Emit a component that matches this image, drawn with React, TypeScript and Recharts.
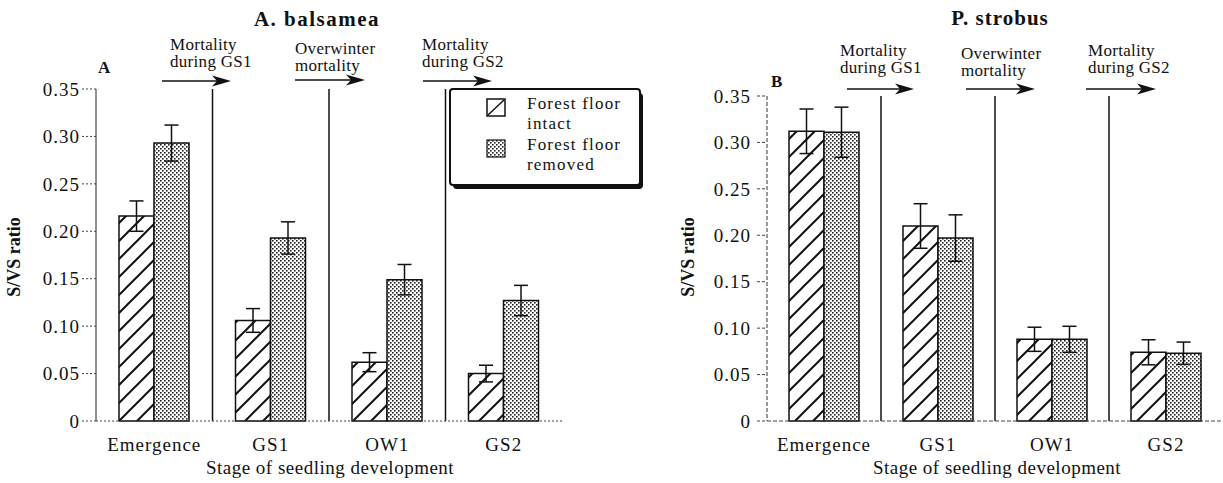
import React from 'react';
import { BarChart, Bar, XAxis, YAxis, ErrorBar, ReferenceLine, Legend } from 'recharts';

// ---------- data ----------
const stages = ['Emergence', 'GS1', 'OW1', 'GS2'];

// A. balsamea
const abIntact = [0.216, 0.106, 0.062, 0.050];
const abIntactErr = [0.016, 0.0125, 0.010, 0.0088];
const abRemoved = [0.293, 0.193, 0.149, 0.127];
const abRemovedErr = [0.019, 0.017, 0.016, 0.016];

// P. strobus
const psIntact = [0.312, 0.210, 0.088, 0.074];
const psIntactErr = [0.024, 0.024, 0.013, 0.0135];
const psRemoved = [0.311, 0.197, 0.088, 0.073];
const psRemovedErr = [0.027, 0.025, 0.014, 0.012];

const yTicks = [0, 0.05, 0.1, 0.15, 0.2, 0.25, 0.3, 0.35];
const separatorStages = ['GS1', 'OW1', 'GS2'];

const legendLabels = [['Forest floor', 'intact'], ['Forest floor', 'removed']];

const abData = stages.map((s, i) => ({
  stage: s,
  intact: abIntact[i],
  intactErr: abIntactErr[i],
  removed: abRemoved[i],
  removedErr: abRemovedErr[i],
}));
const psData = stages.map((s, i) => ({
  stage: s,
  intact: psIntact[i],
  intactErr: psIntactErr[i],
  removed: psRemoved[i],
  removedErr: psRemovedErr[i],
}));

// ---------- styles ----------
const FONT = "'Liberation Serif', 'Times New Roman', serif";
const INK = '#111';
const tickStyle = { fontSize: 19, fill: INK, fontFamily: FONT, letterSpacing: 1 };

const fmt = (v: number) => (v === 0 ? '0' : v.toFixed(2));

const Patterns = ({ prefix }: { prefix: string }) => (
  <defs>
    <pattern id={`${prefix}-hatch`} patternUnits="userSpaceOnUse" width="18" height="18">
      <rect width="18" height="18" fill="#fff" />
      <path d="M-2,20 L20,-2 M-2,2 L2,-2 M16,20 L20,16" stroke={INK} strokeWidth="2" />
    </pattern>
    <pattern id={`${prefix}-dots`} patternUnits="userSpaceOnUse" width="4" height="4">
      <rect width="4" height="4" fill="#fff" />
      <rect x="0" y="0" width="1.6" height="1.6" fill="#222" />
      <rect x="2" y="2" width="1.6" height="1.6" fill="#222" />
    </pattern>
  </defs>
);

const LegendBox = () => (
  <svg width={204} height={106} style={{ display: 'block' }}>
    <defs>
      <pattern id="lg-dots" patternUnits="userSpaceOnUse" width="4" height="4">
        <rect width="4" height="4" fill="#fff" />
        <rect x="0" y="0" width="1.6" height="1.6" fill="#222" />
        <rect x="2" y="2" width="1.6" height="1.6" fill="#222" />
      </pattern>
    </defs>
    <rect x={7} y={7} width={190} height={96} rx={4} fill={INK} />
    <rect x={4} y={3} width={190} height={96} rx={3} fill="#fff" stroke={INK} strokeWidth={2} />
    <rect x={41} y={13} width={18} height={17} fill="#fff" stroke={INK} strokeWidth={1.5} />
    <line x1={42} y1={29} x2={58} y2={14} stroke={INK} strokeWidth={1.5} />
    <rect x={41} y={54} width={18} height={17} fill="url(#lg-dots)" stroke={INK} strokeWidth={1.2} />
    <g fontFamily={FONT} fontSize={17} fill={INK} style={{ letterSpacing: 1.2 }}>
      <text x={81} y={23}>{legendLabels[0][0]}</text>
      <text x={81} y={43}>{legendLabels[0][1]}</text>
      <text x={81} y={64}>{legendLabels[1][0]}</text>
      <text x={81} y={84}>{legendLabels[1][1]}</text>
    </g>
  </svg>
);

const Arrow = ({ x1, x2, y }: { x1: number; x2: number; y: number }) => (
  <g>
    <line x1={x1} y1={y} x2={x2 - 14} y2={y} stroke={INK} strokeWidth={1.5} />
    <polygon points={`${x2},${y} ${x2 - 19},${y - 5.5} ${x2 - 14},${y} ${x2 - 19},${y + 5.5}`} fill={INK} />
  </g>
);

const Note = ({ x, y1, y2, l1, l2 }: { x: number; y1: number; y2: number; l1: string; l2: string }) => (
  <g fontFamily={FONT} fontSize={17} fill={INK} style={{ letterSpacing: 0.3 }}>
    <text x={x} y={y1}>{l1}</text>
    <text x={x} y={y2}>{l2}</text>
  </g>
);

export default function App() {
  return (
    <div
      style={{
        position: 'absolute',
        left: 0,
        top: 0,
        width: 1223,
        height: 483,
        overflow: 'hidden',
        background: '#fff',
        fontFamily: FONT,
      }}
    >
      {/* Left panel: A. balsamea */}
      <div style={{ position: 'absolute', left: 0, top: 0 }}>
        <BarChart
          width={650}
          height={483}
          data={abData}
          margin={{ top: 89, right: 88, bottom: 32, left: 0 }}
          barCategoryGap={23}
          barGap={0}
        >
          <Patterns prefix="ab" />
          <XAxis
            dataKey="stage"
            height={30}
            tickLine={false}
            tickSize={0}
            tickMargin={17}
            axisLine={{ stroke: '#444', strokeDasharray: '2 2', strokeWidth: 1 }}
            tick={tickStyle}
            interval={0}
          />
          <YAxis
            width={96}
            domain={[0, 0.35]}
            ticks={yTicks}
            interval={0}
            tickFormatter={fmt}
            tickSize={14}
            tickMargin={2}
            tickLine={{ stroke: '#444', strokeDasharray: '2 2' }}
            axisLine={{ stroke: '#222', strokeWidth: 1 }}
            tick={tickStyle}
          />
          {separatorStages.map((s) => (
            <ReferenceLine key={s} x={s} position="start" stroke={INK} strokeWidth={1.5} />
          ))}
          <Legend
            layout="horizontal"
            verticalAlign="middle"
            align="center"
            content={() => <LegendBox />}
            wrapperStyle={{ position: 'absolute', left: 446, top: 86, width: 204, height: 106 }}
          />
          <Bar dataKey="intact" fill="url(#ab-hatch)" stroke={INK} strokeWidth={1.5} isAnimationActive={false}>
            <ErrorBar dataKey="intactErr" width={7} stroke={INK} strokeWidth={1.5} isAnimationActive={false} />
          </Bar>
          <Bar dataKey="removed" fill="url(#ab-dots)" stroke={INK} strokeWidth={1.5} isAnimationActive={false}>
            <ErrorBar dataKey="removedErr" width={7} stroke={INK} strokeWidth={1.5} isAnimationActive={false} />
          </Bar>
        </BarChart>
      </div>

      {/* Right panel: P. strobus */}
      <div style={{ position: 'absolute', left: 640, top: 0 }}>
        <BarChart
          width={583}
          height={483}
          data={psData}
          margin={{ top: 96, right: 0, bottom: 32, left: 0 }}
          barCategoryGap={22}
          barGap={0}
        >
          <Patterns prefix="ps" />
          <XAxis
            dataKey="stage"
            height={30}
            tickLine={false}
            tickSize={0}
            tickMargin={17}
            axisLine={{ stroke: '#444', strokeDasharray: '4 2', strokeWidth: 1 }}
            tick={tickStyle}
            interval={0}
          />
          <YAxis
            width={127}
            domain={[0, 0.35]}
            ticks={yTicks}
            interval={0}
            tickFormatter={fmt}
            tickSize={10}
            tickMargin={6}
            tickLine={{ stroke: '#444', strokeDasharray: '3 2' }}
            axisLine={{ stroke: '#333', strokeDasharray: '4 2', strokeWidth: 1 }}
            tick={tickStyle}
          />
          {separatorStages.map((s) => (
            <ReferenceLine key={s} x={s} position="start" stroke={INK} strokeWidth={1.5} />
          ))}
          <Bar dataKey="intact" fill="url(#ps-hatch)" stroke={INK} strokeWidth={1.5} isAnimationActive={false}>
            <ErrorBar dataKey="intactErr" width={7} stroke={INK} strokeWidth={1.5} isAnimationActive={false} />
          </Bar>
          <Bar dataKey="removed" fill="url(#ps-dots)" stroke={INK} strokeWidth={1.5} isAnimationActive={false}>
            <ErrorBar dataKey="removedErr" width={7} stroke={INK} strokeWidth={1.5} isAnimationActive={false} />
          </Bar>
        </BarChart>
      </div>

      {/* Annotation overlay */}
      <svg
        width={1223}
        height={483}
        style={{ position: 'absolute', left: 0, top: 0, pointerEvents: 'none' }}
      >
        <g fontFamily={FONT} fontWeight="bold" fill={INK}>
          <text x={317} y={26} fontSize={21} textAnchor="middle" style={{ letterSpacing: 1.5 }}>
            A.  balsamea
          </text>
          <text x={1000} y={25} fontSize={21} textAnchor="middle" style={{ letterSpacing: 1 }}>
            P.  strobus
          </text>
          <text x={98} y={73} fontSize={17}>A</text>
          <text x={771} y={87} fontSize={17}>B</text>
          <text
            x={14}
            y={257}
            fontSize={18}
            textAnchor="middle"
            dominantBaseline="central"
            transform="rotate(-90 14 257)"
          >
            S/VS ratio
          </text>
          <text
            x={688}
            y={257}
            fontSize={18}
            textAnchor="middle"
            dominantBaseline="central"
            transform="rotate(-90 688 257)"
          >
            S/VS ratio
          </text>
        </g>
        <g fontFamily={FONT} fontSize={19} fill={INK} textAnchor="middle" style={{ letterSpacing: 0.5 }}>
          <text x={330} y={474}>Stage of seedling development</text>
          <text x={997} y={474}>Stage of seedling development</text>
        </g>

        <Note x={170} y1={50} y2={67} l1="Mortality" l2="during GS1" />
        <Note x={295} y1={54} y2={71} l1="Overwinter" l2="mortality" />
        <Note x={422} y1={50} y2={67} l1="Mortality" l2="during GS2" />
        <Arrow x1={162} x2={231} y={81} />
        <Arrow x1={295} x2={365} y={80} />
        <Arrow x1={423} x2={492} y={81} />

        <Note x={840} y1={56} y2={73} l1="Mortality" l2="during GS1" />
        <Note x={961} y1={59} y2={76} l1="Overwinter" l2="mortality" />
        <Note x={1088} y1={56} y2={73} l1="Mortality" l2="during GS2" />
        <Arrow x1={847} x2={914} y={89} />
        <Arrow x1={966} x2={1035} y={89} />
        <Arrow x1={1086} x2={1156} y={89} />
      </svg>
    </div>
  );
}
